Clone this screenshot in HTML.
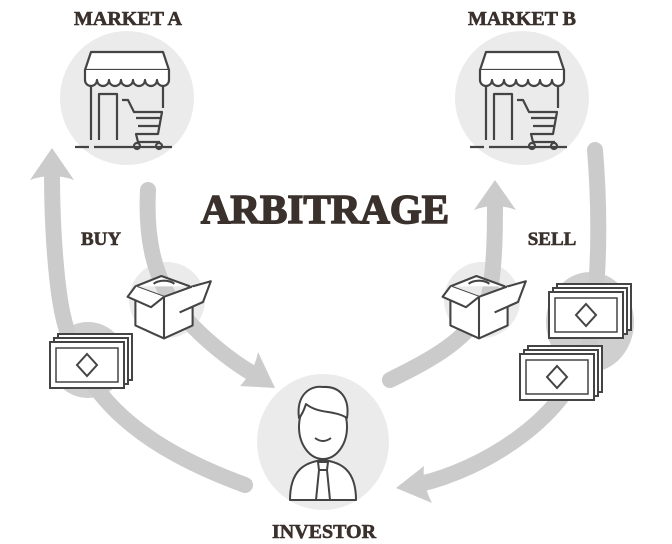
<!DOCTYPE html>
<html><head><meta charset="utf-8"><style>
html,body{margin:0;padding:0;background:#fff;}
svg{display:block;}
text{font-family:"Liberation Serif",serif;font-weight:bold;fill:#3a302c;stroke:#3a302c;text-anchor:middle;}
</style></head><body>
<svg width="672" height="544" viewBox="0 0 672 544" xmlns="http://www.w3.org/2000/svg">
<defs>
<g id="store" fill="none" stroke="#444" stroke-width="2.2" stroke-linejoin="round">
  <path d="M-36,-46 H36 L42,-28 H-42 Z" fill="#fff"/>
  <path d="M-42,-28 v10 a6,6 0 0 0 12,0 a6,6 0 0 0 12,0 a6,6 0 0 0 12,0 a6,6 0 0 0 12,0 a6,6 0 0 0 12,0 a6,6 0 0 0 12,0 a6,6 0 0 0 12,0 V-28" fill="#fff"/>
  <path d="M-36,-12 V42 M36,-12 V10"/>
  <path d="M-28,42 V-4 H-10 V42"/>
  <path d="M-5,2 h6 l6,12 h28 l-4,22 h-22 l2,8 h22 M9,20 h26 M11,28 h22"/>
  <circle cx="10" cy="48" r="3"/><circle cx="32" cy="48" r="3"/>
  <path d="M-52,49 h14 M-33,49 h78"/>
</g>
<g id="box" fill="#fff" stroke="#444" stroke-width="1.6" stroke-linejoin="round">
  <path d="M-22,-12 L0,-4 L22,-12 L22,18 L0,28 L-22,18 Z"/>
  <path d="M0,-4 V28"/>
  <path d="M-22,-12 L-2,-20 L20,-12"/>
  <path d="M-22,-12 L-28,-4 L-10,4 L0,-4"/>
  <path d="M22,-12 L36,-16 L30,0 L12,8"/>
  <path d="M-8,-14 a10,6 0 0 1 16,0"/>
</g>
<g id="bill" fill="#fff" stroke="#444" stroke-width="2">
  <rect x="-30" y="-26" width="74" height="46"/>
  <rect x="-34" y="-22" width="74" height="46"/>
  <rect x="-38" y="-18" width="74" height="46"/>
  <path d="M-32,-12 h62 v34 h-62 Z" stroke-width="1.5"/>
  <path d="M-1,-6 L9,5 L-1,16 L-11,5 Z"/>
</g>
</defs>

<circle cx="127" cy="98" r="67" fill="#ebebeb"/>
<circle cx="522" cy="98" r="67" fill="#ebebeb"/>
<ellipse cx="323" cy="442" rx="66" ry="68" fill="#ebebeb"/>
<circle cx="167" cy="300" r="38" fill="#ebebeb"/>
<circle cx="482" cy="300" r="38" fill="#ebebeb"/>
<circle cx="88" cy="360" r="38" fill="#cfcfcf"/>
<ellipse cx="590" cy="322" rx="44" ry="50" fill="#cfcfcf"/>

<g fill="none" stroke="#cbcbcb" stroke-width="16" stroke-linecap="round">
  <path d="M245,485 C150,450 75,400 60,300 C54,260 52,210 52,175"/>
  <path d="M148,190 C146,230 150,280 185,318 C205,340 230,360 250,372"/>
  <path d="M390,380 C430,360 470,340 488,300 C495,270 495,230 495,200"/>
  <path d="M595,150 C600,210 600,280 590,340 C570,420 480,470 420,484"/>
</g>
<g fill="#cbcbcb">
  <path d="M52,148 L30,180 Q52,172 74,180 Z"/>
  <path d="M275,388 L240,386 Q255,370 258,352 Z"/>
  <path d="M495,180 L474,210 Q495,202 516,210 Z"/>
  <path d="M396,488 L424,466 Q422,484 432,503 Z"/>
</g>

<use href="#store" x="127" y="98"/>
<use href="#store" x="522" y="98"/>
<g transform="translate(164,302) scale(1.3)"><use href="#box"/></g>
<g transform="translate(479,302) scale(1.3)"><use href="#box"/></g>
<use href="#bill" x="88" y="360"/>
<use href="#bill" x="587" y="310"/>
<use href="#bill" x="558" y="372"/>

<g fill="#fff" stroke="#444" stroke-width="2" stroke-linejoin="round">
  <path d="M290,500 C290,470 305,462 323,460 C341,462 356,470 356,500 Z"/>
  <path d="M318,462 h10 l-1,8 l3,30 h-14 l3,-30 Z"/>
  <path d="M318,470 h10"/>
  <ellipse cx="323" cy="427" rx="24" ry="32"/>
  <path d="M299,418 C296,395 310,385 323,387 C340,386 350,398 347,418 C335,410 318,414 306,404 C304,410 302,415 299,418 Z"/>
  <path d="M315,438 q8,6 16,0" fill="none"/>
</g>

<text x="128" y="25" font-size="20" stroke-width="0.6">MARKET A</text>
<text x="522" y="25" font-size="20" stroke-width="0.6">MARKET B</text>
<text x="325" y="223" font-size="41" stroke-width="1.5">ARBITRAGE</text>
<text x="101" y="245" font-size="19" stroke-width="0.6">BUY</text>
<text x="552" y="245" font-size="19" stroke-width="0.6">SELL</text>
<text x="324" y="538" font-size="20" stroke-width="0.6">INVESTOR</text>
</svg>
</body></html>
